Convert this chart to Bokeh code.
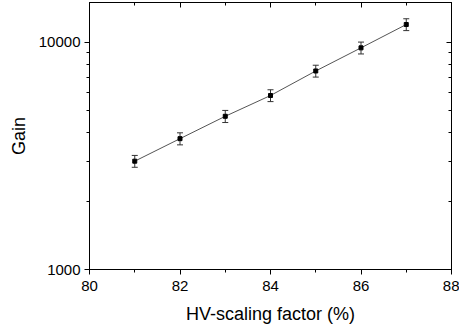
from bokeh.plotting import figure
from bokeh.models import (FixedTicker, PrintfTickFormatter, LinearAxis, LogAxis,
                          CustomJSTickFormatter, Whisker, TeeHead, ColumnDataSource)
from bokeh.embed import file_html
from bokeh.resources import INLINE

# data
hv_factor = [81, 82, 83, 84, 85, 86, 87]
gain = [3000, 3770, 4730, 5840, 7490, 9470, 12000]
gain_err = [180, 230, 290, 350, 450, 570, 720]

x_major = [80, 82, 84, 86, 88]
x_minor = [81, 83, 85, 87]
y_major = [1000, 10000]
y_minor = [2000, 3000, 4000, 5000, 6000, 7000, 8000, 9000]

FONT = "Liberation Sans"

src = ColumnDataSource(dict(
    x=hv_factor, y=gain,
    lo=[g - e for g, e in zip(gain, gain_err)],
    hi=[g + e for g, e in zip(gain, gain_err)],
))

p = figure(width=459, height=329, output_backend="svg", toolbar_location=None,
           y_axis_type="log", x_range=(80, 88), y_range=(1000, 15000),
           min_border_left=89, min_border_right=8, min_border_top=2,
           min_border_bottom=60, x_axis_label="HV-scaling factor (%)",
           y_axis_label="Gain")
p.grid.visible = False
p.outline_line_color = "black"
p.outline_line_width = 1
p.background_fill_color = "white"
p.border_fill_color = "white"

xt = FixedTicker(ticks=x_major, minor_ticks=x_minor)
yt = FixedTicker(ticks=y_major, minor_ticks=y_minor)

xa = p.xaxis[0]
xa.ticker = xt
ya = p.yaxis[0]
ya.ticker = yt
ya.formatter = PrintfTickFormatter(format="%d")

for ax in (xa, ya):
    ax.axis_line_color = "black"
    ax.major_tick_line_color = "black"
    ax.minor_tick_line_color = "black"
    ax.major_tick_out = 5
    ax.major_tick_in = 0
    ax.minor_tick_out = 3
    ax.minor_tick_in = 0
    ax.major_label_text_font = FONT
    ax.major_label_text_font_size = "15px"
    ax.major_label_text_color = "black"
    ax.axis_label_text_font = FONT
    ax.axis_label_text_font_size = "18px"
    ax.axis_label_text_font_style = "normal"
    ax.axis_label_text_color = "black"
    ax.major_label_standoff = 4
xa.major_label_standoff = 6
xa.axis_label_standoff = 10
ya.axis_label_standoff = 7

blank = CustomJSTickFormatter(code="return ''")
top = LinearAxis(ticker=FixedTicker(ticks=x_major, minor_ticks=x_minor), formatter=blank)
right = LogAxis(ticker=FixedTicker(ticks=y_major, minor_ticks=y_minor), formatter=blank)
for ax in (top, right):
    ax.axis_line_color = "black"
    ax.major_tick_line_color = "black"
    ax.minor_tick_line_color = "black"
    ax.major_tick_in = 5
    ax.major_tick_out = 0
    ax.minor_tick_in = 3
    ax.minor_tick_out = 0
    ax.major_label_standoff = 0
    ax.axis_label_standoff = 0
    ax.major_label_text_font_size = "1px"
p.add_layout(top, "above")
p.add_layout(right, "right")

p.line("x", "y", source=src, line_color="#555555", line_width=1)
w = Whisker(base="x", lower="lo", upper="hi", source=src, line_color="#333333",
            line_width=1,
            upper_head=TeeHead(size=6, line_color="#333333", line_width=1),
            lower_head=TeeHead(size=6, line_color="#333333", line_width=1))
p.add_layout(w)
p.scatter("x", "y", source=src, marker="square", size=4, fill_color="black",
          line_color="black")

open("out.html", "w").write(file_html(p, INLINE))
